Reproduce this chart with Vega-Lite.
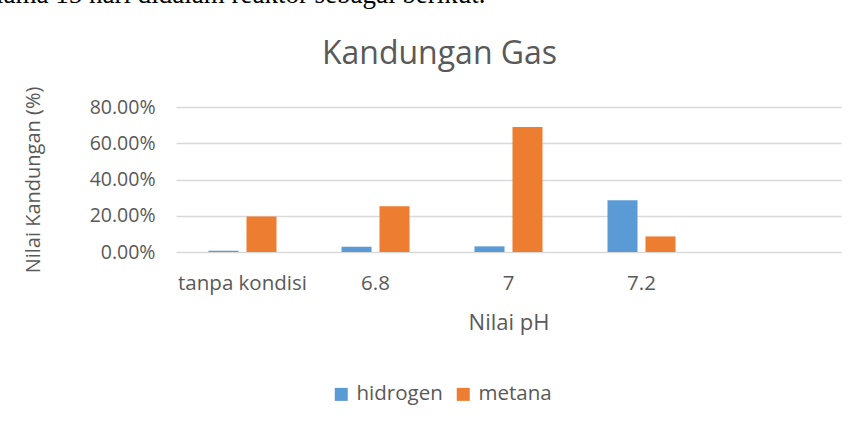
{
  "$schema": "https://vega.github.io/schema/vega-lite/v6.json",
  "width": 665,
  "height": 145,
  "autosize": {"type": "none"},
  "padding": {"left": 176, "top": 107, "right": 15, "bottom": 173},
  "background": "#ffffff",
  "title": {
    "text": "lama 15 hari didalam reaktor sebagai berikut.",
    "font": "Liberation Serif",
    "fontSize": 27,
    "fontWeight": "normal",
    "color": "#000000",
    "anchor": "start",
    "frame": "group",
    "dx": -180,
    "baseline": "alphabetic",
    "offset": 7
  },
  "config": {"view": {"stroke": null}, "font": "Open Sans"},
  "data": {
    "values": [
      {"ph": "tanpa kondisi", "gas": "hidrogen", "nilai": 0.007},
      {"ph": "tanpa kondisi", "gas": "metana", "nilai": 0.196},
      {"ph": "6.8", "gas": "hidrogen", "nilai": 0.029},
      {"ph": "6.8", "gas": "metana", "nilai": 0.252},
      {"ph": "7", "gas": "hidrogen", "nilai": 0.031},
      {"ph": "7", "gas": "metana", "nilai": 0.69},
      {"ph": "7.2", "gas": "hidrogen", "nilai": 0.285},
      {"ph": "7.2", "gas": "metana", "nilai": 0.086}
    ]
  },
  "layer": [
    {
      "mark": {"type": "bar"},
      "encoding": {
        "x": {
          "field": "ph",
          "type": "nominal",
          "sort": null,
          "scale": {"domain": ["tanpa kondisi", "6.8", "7", "7.2", ""], "paddingInner": 0, "paddingOuter": 0},
          "axis": {
            "orient": "bottom",
            "title": "Nilai pH",
            "labelAngle": 0,
            "labelFont": "Open Sans",
            "labelFontSize": 20.5,
            "labelColor": "#595959",
            "labelPadding": 21,
            "ticks": false,
            "tickSize": 0,
            "domain": false,
            "grid": false,
            "titleFont": "Open Sans",
            "titleFontSize": 22,
            "titleFontWeight": "normal",
            "titleColor": "#595959",
            "titlePadding": 19
          }
        },
        "xOffset": {
          "field": "gas",
          "type": "nominal",
          "scale": {"domain": ["hidrogen", "metana"], "paddingInner": 0.21, "paddingOuter": 0.855}
        },
        "y": {
          "field": "nilai",
          "type": "quantitative",
          "scale": {"domain": [0, 0.8]},
          "axis": {
            "values": [0, 0.2, 0.4, 0.6, 0.8],
            "format": ".2%",
            "title": "Nilai Kandungan (%)",
            "labelFont": "Open Sans",
            "labelFontSize": 19.5,
            "labelColor": "#595959",
            "labelPadding": 21,
            "ticks": false,
            "tickSize": 0,
            "domain": false,
            "grid": true,
            "gridColor": "#d9d9d9",
            "gridWidth": 1.4,
            "titleFont": "Open Sans",
            "titleFontSize": 20,
            "titleFontWeight": "normal",
            "titleColor": "#595959",
            "titlePadding": 46
          }
        },
        "color": {
          "field": "gas",
          "type": "nominal",
          "scale": {"domain": ["hidrogen", "metana"], "range": ["#5B9BD5", "#ED7D31"]},
          "legend": {
            "orient": "none",
            "legendX": 155,
            "legendY": 277,
            "direction": "horizontal",
            "title": null,
            "symbolType": "square",
            "symbolSize": 169,
            "symbolStrokeWidth": 0,
            "symbolOpacity": 1,
            "labelFont": "Open Sans",
            "labelFontSize": 20.5,
            "labelColor": "#595959",
            "labelOffset": 5,
            "columnSpacing": 22,
            "padding": 0
          }
        }
      }
    },
    {
      "mark": {"type": "bar", "opacity": 0},
      "encoding": {
        "x": {
          "field": "ph",
          "type": "nominal",
          "sort": null,
          "axis": {
            "orient": "top",
            "labels": false,
            "ticks": false,
            "domain": false,
            "grid": false,
            "title": "Kandungan Gas",
            "titleFont": "Open Sans",
            "titleFontSize": 32,
            "titleFontWeight": "normal",
            "titleColor": "#595959",
            "titleAlign": "center",
            "titleBaseline": "alphabetic",
            "titleX": 263,
            "titleY": -44,
            "titleAngle": 0
          }
        }
      }
    }
  ],
  "resolve": {"axis": {"x": "independent"}}
}
